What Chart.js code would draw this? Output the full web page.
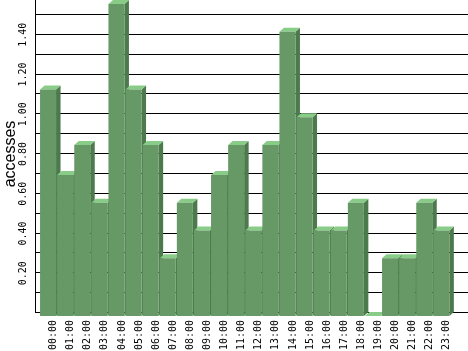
<!DOCTYPE html>
<html>
<head>
<meta charset="UTF-8">
<title>accesses per hour</title>
<script src="https://cdn.jsdelivr.net/npm/chart.js"></script>
<style>
    body { margin: 0; background: #fff; }
    #wrap { width: 468px; height: 351px; }
</style>
</head>
<body>
<div id="wrap"><canvas id="chart" width="468" height="351"></canvas></div>
<script>
const hours = ['00:00','01:00','02:00','03:00','04:00','05:00','06:00','07:00','08:00','09:00','10:00','11:00',
               '12:00','13:00','14:00','15:00','16:00','17:00','18:00','19:00','20:00','21:00','22:00','23:00'];
const accesses = [1.14, 0.71, 0.86, 0.57, 1.57, 1.14, 0.86, 0.29, 0.57, 0.43, 0.71, 0.86,
                  0.43, 0.86, 1.43, 1.00, 0.43, 0.43, 0.57, 0, 0.29, 0.29, 0.57, 0.43];
const gridValues = [0, 0.1, 0.2, 0.3, 0.4, 0.5, 0.6, 0.7, 0.8, 0.9, 1.0, 1.1, 1.2, 1.3, 1.4, 1.5];
const yLabels = [0.2, 0.4, 0.6, 0.8, 1.0, 1.2, 1.4];
const yMax = 1.57;

// depth of the fake 3d bars
const DX = 4.5, DY = 4;
const FRONT = '#669966', TOP = '#88cc88', SIDE = '#4d7a4d';

function poly(ctx, pts, color) {
    ctx.fillStyle = color;
    ctx.beginPath();
    ctx.moveTo(pts[0][0], pts[0][1]);
    for (let i = 1; i < pts.length; i++) ctx.lineTo(pts[i][0], pts[i][1]);
    ctx.closePath();
    ctx.fill();
}

const bars3d = {
    id: 'bars3d',
    beforeDatasetsDraw(chart) {
        const ctx = chart.ctx;
        const y = chart.scales.y;
        ctx.save();
        ctx.strokeStyle = '#000';
        ctx.lineWidth = 1;
        ctx.beginPath();
        gridValues.forEach(v => {
            const py = Math.round(y.getPixelForValue(v)) + 0.5;
            ctx.moveTo(35, py);
            ctx.lineTo(chart.width, py);
        });
        ctx.moveTo(35.5, 0);
        ctx.lineTo(35.5, Math.round(y.getPixelForValue(0)) + 1);
        ctx.stroke();
        ctx.restore();

        // sides and tops first, fronts are drawn by chart.js afterwards
        chart.getDatasetMeta(0).data.forEach(bar => {
            const p = bar.getProps(['x', 'y', 'base', 'width'], true);
            const l = p.x - p.width / 2, r = p.x + p.width / 2;
            poly(ctx, [[r - DX, p.y + DY], [r, p.y], [r, p.base], [r - DX, p.base + DY]], SIDE);
            poly(ctx, [[l - DX, p.y + DY], [l, p.y], [r, p.y], [r - DX, p.y + DY]], TOP);
        });
        ctx.save();
        ctx.translate(-DX, DY);
    },
    afterDatasetsDraw(chart) {
        chart.ctx.restore();
    },
    afterDraw(chart) {
        const ctx = chart.ctx;
        const y = chart.scales.y;
        ctx.save();
        ctx.fillStyle = '#000';
        ctx.textAlign = 'center';
        ctx.textBaseline = 'middle';
        ctx.font = '10px "DejaVu Sans Mono"';
        yLabels.forEach(v => {
            ctx.save();
            ctx.translate(23.5, y.getPixelForValue(v) + 1);
            ctx.rotate(-Math.PI / 2);
            ctx.fillText(v.toFixed(2), 0, 0);
            ctx.restore();
        });
        ctx.font = '16px "Liberation Sans"';
        ctx.translate(10.5, 154);
        ctx.rotate(-Math.PI / 2);
        ctx.fillText('accesses', 0, 0);
        ctx.restore();
    }
};

new Chart(document.getElementById('chart'), {
    type: 'bar',
    data: {
        labels: hours,
        datasets: [{
            data: accesses,
            backgroundColor: FRONT,
            borderWidth: 0,
            barPercentage: 0.936,
            categoryPercentage: 1
        }]
    },
    options: {
        responsive: false,
        devicePixelRatio: 1,
        animation: false,
        layout: { padding: { left: 0, right: 13.6, top: 0, bottom: 0 } },
        plugins: { legend: { display: false }, tooltip: { enabled: false } },
        scales: {
            x: {
                grid: { display: false, drawTicks: false },
                border: { display: false },
                ticks: {
                    color: '#000',
                    font: { family: 'DejaVu Sans Mono', size: 10 },
                    minRotation: 90,
                    maxRotation: 90,
                    autoSkip: false,
                    padding: 8,
                    labelOffset: 1
                },
                afterFit: s => { s.height = 39; }
            },
            y: {
                min: 0,
                max: yMax,
                grid: { display: false, drawTicks: false },
                border: { display: false },
                ticks: { display: false },
                afterFit: s => { s.width = 44; }
            }
        }
    },
    plugins: [bars3d]
});
</script>
</body>
</html>
